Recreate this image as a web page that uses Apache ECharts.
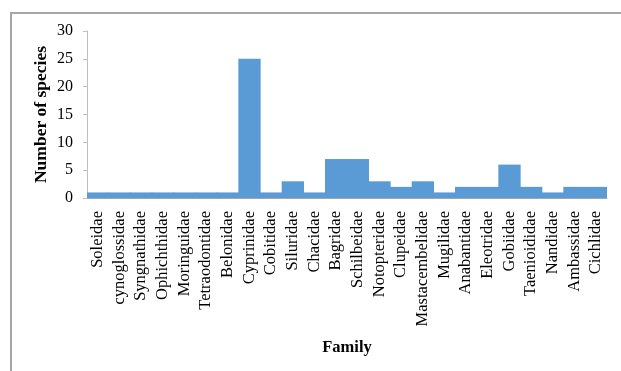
<!DOCTYPE html>
<html>
<head>
<meta charset="utf-8">
<script src="https://cdn.jsdelivr.net/npm/echarts@6/dist/echarts.min.js"></script>
<style>
  html, body { margin: 0; padding: 0; background: #fff; }
  #frame { position: absolute; left: 10px; top: 12px; width: 640px; height: 400px;
           border-left: 2px solid #a6a6a6; border-top: 2px solid #a6a6a6; }
  #chart { position: absolute; left: 0; top: 0; width: 621px; height: 371px; }
</style>
</head>
<body>
<div id="frame"></div>
<div id="chart"></div>
<script>
// Fish families and the number of species recorded in each
const families = [
  'Soleidae', 'cynoglossidae', 'Syngnathidae', 'Ophichthidae', 'Moringuidae',
  'Tetraodontidae', 'Belonidae', 'Cyprinidae', 'Cobitidae', 'Siluridae',
  'Chacidae', 'Bagridae', 'Schilbeidae', 'Notopteridae', 'Clupeidae',
  'Mastacembelidae', 'Mugilidae', 'Anabantidae', 'Eleotridae', 'Gobiidae',
  'Taenioididae', 'Nandidae', 'Ambassidae', 'Cichlidae'
];
const speciesCount = [1, 1, 1, 1, 1, 1, 1, 25, 1, 3, 1, 7, 7, 3, 2, 3, 1, 2, 2, 6, 2, 1, 2, 2];
const yTicks = [0, 5, 10, 15, 20, 25, 30];

const chart = echarts.init(document.getElementById('chart'), null, { renderer: 'canvas' });
const serif = '"Liberation Serif", "DejaVu Serif", serif';
const barBlue = '#5b9bd5';

chart.setOption({
  animation: false,
  grid: { left: 87, right: 14, top: 31, bottom: 173 },
  xAxis: {
    type: 'category',
    data: families,
    name: 'Family',
    nameLocation: 'middle',
    nameGap: 141,
    nameMoveOverlap: false,
    nameTextStyle: { fontFamily: serif, fontSize: 16.5, fontWeight: 'bold', color: '#000' },
    axisLine: { lineStyle: { color: '#a6a6a6' } },
    axisTick: { show: false },
    axisLabel: {
      rotate: 90, interval: 0, margin: 13,
      fontFamily: serif, fontSize: 16.5, color: '#000'
    }
  },
  yAxis: {
    type: 'value',
    min: yTicks[0],
    max: yTicks[yTicks.length - 1],
    interval: 5,
    name: 'Number of species',
    nameLocation: 'middle',
    nameGap: 37,
    nameMoveOverlap: false,
    nameTextStyle: { fontFamily: serif, fontSize: 17.5, fontWeight: 'bold', color: '#000' },
    axisLine: { show: true, lineStyle: { color: '#bfbfbf' } },
    axisTick: { show: true, inside: false, length: 4, lineStyle: { color: '#bfbfbf' } },
    splitLine: { show: false },
    axisLabel: { fontFamily: serif, fontSize: 16, color: '#000', margin: 14 }
  },
  series: [{
    type: 'bar',
    data: speciesCount,
    barWidth: '103%',
    itemStyle: { color: barBlue }
  }]
});
</script>
</body>
</html>
